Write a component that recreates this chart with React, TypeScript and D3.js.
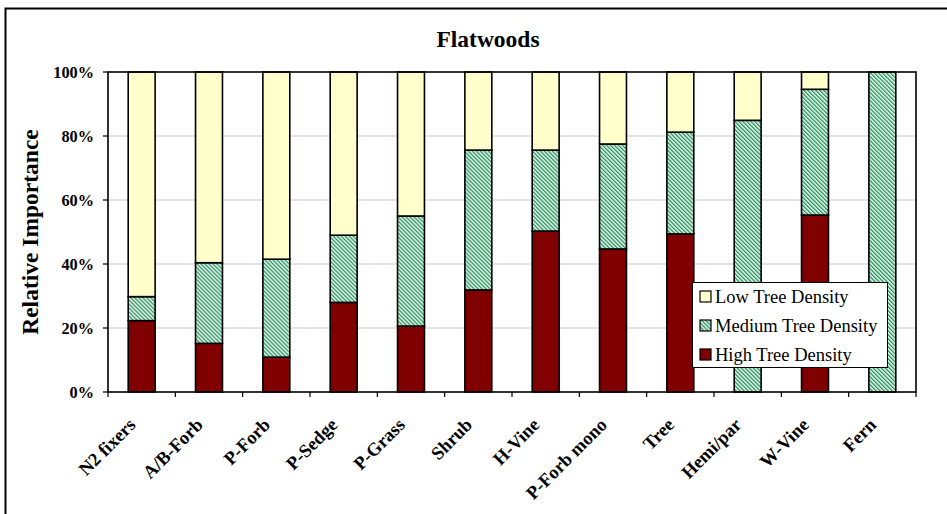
import React from "react";
import * as d3 from "d3";

const categories = ["N2 fixers", "A/B-Forb", "P-Forb", "P-Sedge", "P-Grass", "Shrub", "H-Vine", "P-Forb mono", "Tree", "Hemi/par", "W-Vine", "Fern"];
const highDensity = [22.3, 15.2, 10.9, 28.0, 20.6, 31.9, 50.3, 44.7, 49.4, 0, 55.3, 0];
const mediumDensity = [7.5, 25.2, 30.6, 21.0, 34.4, 43.7, 25.3, 32.8, 31.8, 84.9, 39.3, 100];
const lowDensity = [70.2, 59.6, 58.5, 51.0, 45.0, 24.4, 24.4, 22.5, 18.8, 15.1, 5.4, 0];
const yTicks = [0, 20, 40, 60, 80, 100];
const seriesNames = ["High Tree Density", "Medium Tree Density", "Low Tree Density"];
const legendOrder = ["Low Tree Density", "Medium Tree Density", "High Tree Density"];

const W = 947, H = 514;
const plot = { left: 108, right: 916, top: 72, bottom: 392 };
const serif = "Liberation Serif, Times New Roman, serif";

const fills: Record<string, string> = {
  "High Tree Density": "#800000",
  "Medium Tree Density": "url(#stripes)",
  "Low Tree Density": "#FFFFCC",
};

export default function App() {
  const rows = categories.map((c, i) => ({
    cat: c,
    "High Tree Density": highDensity[i],
    "Medium Tree Density": mediumDensity[i],
    "Low Tree Density": lowDensity[i],
  }));
  const stack = d3.stack<any>().keys(seriesNames)(rows);
  const x = d3.scaleBand().domain(categories).range([plot.left, plot.right]).paddingInner(0.6).paddingOuter(0.3);
  const step = x.step();
  const y = d3.scaleLinear().domain([0, 100]).range([plot.bottom, plot.top]);

  const legend = { x: 692.5, y: 282.5, w: 195, h: 85 };
  const tf = { fontFamily: serif };

  return (
    <svg width={W} height={H} style={{ position: "absolute", left: 0, top: 0, background: "#fff" }}>
      <defs>
        <pattern id="stripes" patternUnits="userSpaceOnUse" width={2.83} height={10} patternTransform="rotate(-45)">
          <rect x={0} y={0} width={2.83} height={10} fill="#ffffff" />
          <rect x={0} y={0} width={1.5} height={10} fill="#339966" />
        </pattern>
      </defs>
      <rect x={0} y={0} width={W} height={H} fill="#fff" />
      <rect x={5.5} y={8.5} width={1000} height={600} fill="none" stroke="#000" strokeWidth={2} />
      <text style={tf} x={488} y={47} textAnchor="middle" fontWeight="bold" fontSize={23.5}>Flatwoods</text>

      {yTicks.filter((t) => t > 0 && t < 100).map((t) => (
        <line key={t} x1={plot.left} x2={plot.right} y1={y(t)} y2={y(t)} stroke="#c8c8c8" strokeWidth={1} />
      ))}

      {stack.map((s) => (
        <g key={s.key}>
          {s.map((d, i) =>
            d[1] - d[0] > 0 ? (
              <rect key={i} x={x(categories[i])!} width={x.bandwidth()} y={y(d[1])} height={y(d[0]) - y(d[1])}
                fill={fills[s.key]} stroke="#000" strokeWidth={1.6} />
            ) : null
          )}
        </g>
      ))}

      <rect x={plot.left} y={plot.top} width={plot.right - plot.left} height={plot.bottom - plot.top} fill="none" stroke="#000" strokeWidth={1.6} />

      {yTicks.map((t) => (
        <g key={t}>
          <line x1={plot.left - 5} x2={plot.left} y1={y(t)} y2={y(t)} stroke="#000" strokeWidth={1.2} />
          <text style={tf} x={94} y={y(t) + 5.5} textAnchor="end" fontWeight="bold" fontSize={16.3}>{t}%</text>
        </g>
      ))}
      <text style={tf} transform={`translate(37.5, ${(plot.top + plot.bottom) / 2}) rotate(-90)`} textAnchor="middle" fontWeight="bold" fontSize={23.5}>Relative Importance</text>

      {d3.range(categories.length + 1).map((i) => (
        <line key={i} x1={plot.left + i * step} x2={plot.left + i * step} y1={plot.bottom} y2={plot.bottom + 5} stroke="#000" strokeWidth={1.2} />
      ))}
      {categories.map((c) => {
        const cx = x(c)! + x.bandwidth() / 2;
        return (
          <text style={tf} key={c} transform={`translate(${cx - 5}, 426) rotate(-45)`} textAnchor="end" fontWeight="bold" fontSize={18.5}>{c}</text>
        );
      })}

      <rect x={legend.x} y={legend.y} width={legend.w} height={legend.h} fill="#fff" stroke="#000" strokeWidth={1} />
      {legendOrder.map((n, i) => (
        <g key={n}>
          <rect x={700} y={291 + i * 29} width={11} height={11} fill={fills[n]} stroke="#000" strokeWidth={1.2} />
          <text style={tf} x={715} y={303.3 + i * 29} fontSize={18.5}>{n}</text>
        </g>
      ))}
    </svg>
  );
}
